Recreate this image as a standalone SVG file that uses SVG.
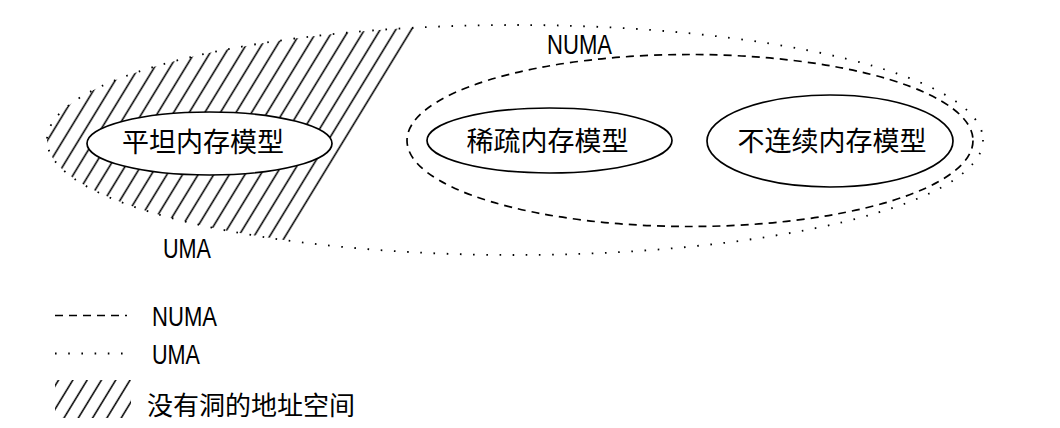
<svg xmlns="http://www.w3.org/2000/svg" width="1060" height="428" viewBox="0 0 1060 428">
  <style>
    .node { fill: #fff; stroke: #000; stroke-width: 1.7; }
    .dash { fill: none; stroke: #000; stroke-width: 1.7; stroke-dasharray: 8 6; }
    .dot { fill: none; stroke: #000; stroke-width: 1.8; stroke-dasharray: 1.6 11.6; }
    .lat { font-family: "Liberation Sans Narrow", "Liberation Sans", Arial, sans-serif; font-size: 27px; fill: #000; }
    .cjk { font-family: "Noto Sans CJK SC", "Noto Sans CJK JP", sans-serif; font-size: 27px; fill: #000; text-anchor: middle; }
  </style>
  <defs>
    <pattern id="hatch" patternUnits="userSpaceOnUse" x="0" y="0" width="15.6" height="428" patternTransform="skewX(-31.4)">
      <line x1="8.3" y1="-2" x2="8.3" y2="430" stroke="#000" stroke-width="1.8"/>
    </pattern>
    <pattern id="hatchLegend" patternUnits="userSpaceOnUse" x="0" y="0" width="14.3" height="428" patternTransform="skewX(-31.4)">
      <line x1="4.5" y1="-2" x2="4.5" y2="430" stroke="#000" stroke-width="1.8"/>
    </pattern>
    <clipPath id="outerClip">
      <ellipse cx="515" cy="140" rx="468" ry="115"/>
    </clipPath>
    <clipPath id="halfClip">
      <polygon points="0,0 431.5,0 170.4,428 0,428"/>
    </clipPath>
    <clipPath id="legendClip">
      <rect x="55" y="380" width="76" height="38"/>
    </clipPath>
  </defs>

  <g id="region-hatched">
    <g clip-path="url(#outerClip)">
      <rect x="0" y="0" width="1060" height="428" fill="url(#hatch)" clip-path="url(#halfClip)"/>
    </g>
  </g>

  <g id="region-uma">
    <ellipse class="dot" cx="515" cy="140" rx="468" ry="115"/>
    <text class="lat" x="163" y="258" textLength="48" lengthAdjust="spacingAndGlyphs">UMA</text>
  </g>

  <g id="region-numa">
    <ellipse class="dash" cx="690" cy="140.5" rx="283" ry="86"/>
    <text class="lat" x="547" y="54" textLength="65" lengthAdjust="spacingAndGlyphs">NUMA</text>
  </g>

  <g id="n-flat">
    <ellipse class="node" cx="209.5" cy="143.5" rx="122.5" ry="31.5"/>
    <text class="cjk" x="203" y="152">平坦内存模型</text>
  </g>

  <g id="n-sparse">
    <ellipse class="node" cx="549.5" cy="140.5" rx="122.5" ry="32.5"/>
    <text class="cjk" x="547.5" y="151">稀疏内存模型</text>
  </g>

  <g id="n-discontig">
    <ellipse class="node" cx="830" cy="141" rx="123" ry="46"/>
    <text class="cjk" x="832" y="151">不连续内存模型</text>
  </g>

  <g id="connectors"/>

  <g id="legend">
    <line class="dash" x1="55" y1="315.5" x2="127" y2="315.5"/>
    <text class="lat" x="152" y="326" textLength="65" lengthAdjust="spacingAndGlyphs">NUMA</text>
    <line class="dot" x1="55" y1="353.5" x2="124" y2="353.5"/>
    <text class="lat" x="152" y="364" textLength="48" lengthAdjust="spacingAndGlyphs">UMA</text>
    <rect x="55" y="380" width="76" height="38" fill="url(#hatchLegend)" clip-path="url(#legendClip)"/>
    <text class="cjk" x="251" y="415" style="font-size:26px">没有洞的地址空间</text>
  </g>
</svg>
